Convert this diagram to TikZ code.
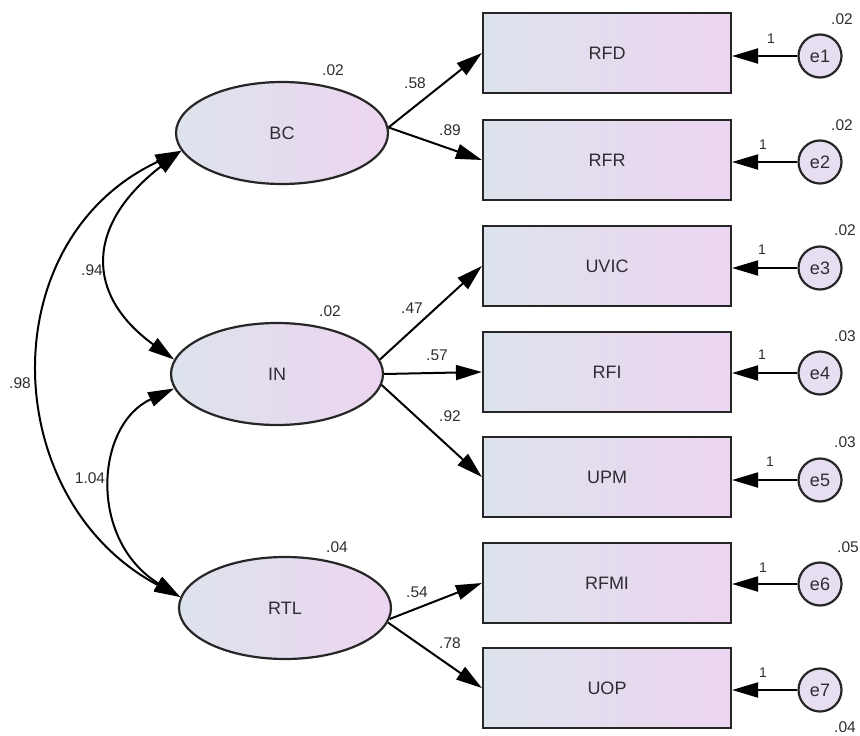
\documentclass[tikz,border=0pt]{standalone}
\usepackage{fontspec}
\setmainfont{Liberation Sans}
\usetikzlibrary{shapes.geometric,arrows.meta}
\definecolor{shL}{RGB}{221,227,236}
\definecolor{shR}{RGB}{236,213,240}
\definecolor{ecol}{RGB}{232,222,242}
\definecolor{txt}{RGB}{45,45,50}
\tikzset{
  obsbox/.style={draw=black!85, line width=2.2pt, minimum width=248pt, minimum height=80pt, inner sep=0pt,
    left color=shL, right color=shR, font=\fontsize{18}{20}\selectfont, text=txt},
  latent/.style={ellipse, draw=black!85, line width=2.2pt, minimum width=212pt, minimum height=102pt, inner sep=0pt,
    left color=shL, right color=shR, font=\fontsize{18}{20}\selectfont, text=txt},
  errc/.style={circle, draw=black!85, line width=2.2pt, minimum size=43pt, inner sep=0pt, fill=ecol,
    font=\fontsize{18}{20}\selectfont, text=txt},
  lab/.style={font=\fontsize{15.5}{17}\selectfont, text=txt, inner sep=0pt},
  onelab/.style={font=\fontsize{14}{16}\selectfont, text=txt, inner sep=0pt},
  arr/.style={line width=2pt, black, -{Triangle[length=26pt,width=15pt]}},
  cov/.style={line width=2pt, black, {Triangle[length=26pt,width=15pt]}-{Triangle[length=26pt,width=15pt]}},
}
\begin{document}
\begin{tikzpicture}[x=1pt,y=-1pt]
\useasboundingbox (0,0) rectangle (860,736);
% observed
\node[obsbox] (RFD) at (607,53) {RFD};
\node[obsbox] (RFR) at (607,160) {RFR};
\node[obsbox] (UVIC) at (607,266) {UVIC};
\node[obsbox] (RFI) at (607,372) {RFI};
\node[obsbox] (UPM) at (607,477) {UPM};
\node[obsbox] (RFMI) at (607,583) {RFMI};
\node[obsbox] (UOP) at (607,688) {UOP};
% latent
\node[latent] (BC) at (282,133) {BC};
\node[latent] (IN) at (277,374) {IN};
\node[latent] (RTL) at (285,608) {RTL};
% errors
\node[errc] (e1) at (820,56) {e1};
\node[errc] (e2) at (820,162) {e2};
\node[errc] (e3) at (820,268) {e3};
\node[errc] (e4) at (820,373) {e4};
\node[errc] (e5) at (820,480) {e5};
\node[errc] (e6) at (820,584) {e6};
\node[errc] (e7) at (820,690) {e7};
% error arrows
\foreach \e/\b in {e1/RFD,e2/RFR,e3/UVIC,e4/RFI,e5/UPM,e6/RFMI,e7/UOP}{
  \draw[arr] (\e.west) -- (\b.east |- \e.west);
}
% loadings
\draw[arr] (BC.3) -- (RFD.west);
\draw[arr] (BC.3) -- (RFR.west);
\draw[arr] (IN.8) -- (UVIC.west);
\draw[arr] (IN.0) -- (RFI.west);
\draw[arr] (IN.-6) -- (UPM.west);
\draw[arr] (RTL.-6) -- (RFMI.west);
\draw[arr] (RTL.-8) -- (UOP.west);
% covariances
\draw[cov] (BC.190) .. controls (85,225) and (85,295) .. (IN.172);
\draw[cov] (BC.190) .. controls (-10,240) and (-2,500) .. (RTL.174);
\draw[cov] (IN.188) .. controls (95,425) and (88,540) .. (RTL.174);
% labels
\node[lab] at (333,70) {.02};
\node[lab] at (330,311) {.02};
\node[lab] at (337,547) {.04};
\node[lab] at (415,83) {.58};
\node[lab] at (450,130) {.89};
\node[lab] at (412,308) {.47};
\node[lab] at (437,355) {.57};
\node[lab] at (450,416) {.92};
\node[lab] at (417,592) {.54};
\node[lab] at (450,643) {.78};
\node[lab] at (92,270) {.94};
\node[lab] at (20,383) {.98};
\node[lab] at (90,478) {1.04};
\node[lab] at (842,19) {.02};
\node[lab] at (842,125) {.02};
\node[lab] at (845,230) {.02};
\node[lab] at (845,336) {.03};
\node[lab] at (845,442) {.03};
\node[lab] at (848,547) {.05};
\node[lab] at (845,727) {.04};
\node[onelab] at (771,39) {1};
\node[onelab] at (763,145) {1};
\node[onelab] at (762,250) {1};
\node[onelab] at (762,355) {1};
\node[onelab] at (770,462) {1};
\node[onelab] at (763,568) {1};
\node[onelab] at (763,673) {1};
\end{tikzpicture}
\end{document}
